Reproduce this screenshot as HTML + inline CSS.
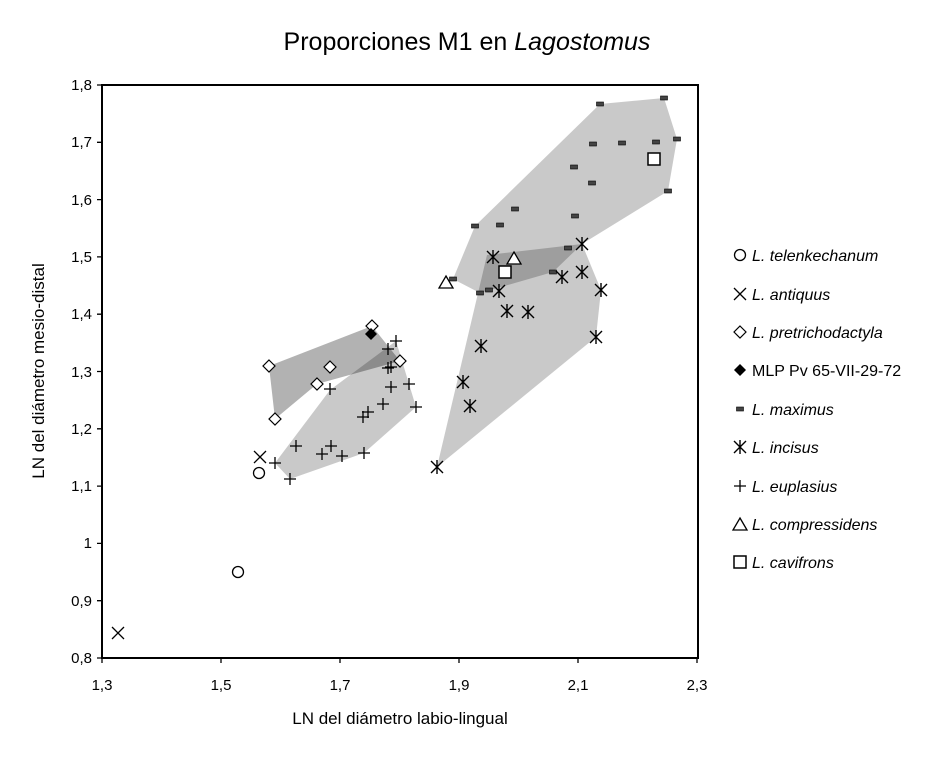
<!DOCTYPE html>
<html><head><meta charset="utf-8"><style>body{margin:0;background:#fff}svg{display:block}text{font-family:"Liberation Sans",sans-serif;fill:#000}</style></head><body>
<svg width="945" height="758" viewBox="0 0 945 758" xmlns="http://www.w3.org/2000/svg">
<defs>
<g id="ci"><circle r="5.5" fill="#fff" stroke="#000" stroke-width="1.3"/></g>
<g id="xx"><path d="M-6,-6L6,6M-6,6L6,-6" stroke="#000" stroke-width="1.3"/></g>
<g id="di"><path d="M0,-6L6,0L0,6L-6,0Z" fill="#fff" stroke="#000" stroke-width="1.2"/></g>
<g id="fd"><path d="M0,-6L6,0L0,6L-6,0Z" fill="#000"/></g>
<g id="mx"><rect x="-3.5" y="-2" width="7" height="4" fill="#444" stroke="#000" stroke-width="0.6"/></g>
<g id="as"><path d="M-6,-6L6,6M-6,6L6,-6M0,-7V7" stroke="#000" stroke-width="1.4"/></g>
<g id="pl"><path d="M-6,0H6M0,-6V6" stroke="#000" stroke-width="1.3"/></g>
<g id="tr"><path d="M0,-7L7,5H-7Z" fill="#fff" stroke="#000" stroke-width="1.3"/></g>
<g id="sq"><rect x="-6" y="-6" width="12" height="12" fill="#fff" stroke="#000" stroke-width="1.5"/></g>
</defs>
<text x="467" y="50" font-size="25" text-anchor="middle">Proporciones M1 en <tspan font-style="italic">Lagostomus</tspan></text>
<!-- polygons -->
<g fill="#000" fill-opacity="0.21">
<polygon points="600,104 664,98 677,139 668,191 582,244 553,272 480,293 453,279 475,226"/>
<polygon points="582,244 601,290 596,337 437,467 487,255"/>
<polygon points="396,341 416,407 364,453 290,479 275,463 330,390"/>
</g>
<polygon points="269,366 372,326 400,361 317,384 275,419" fill="#000" fill-opacity="0.3"/>
<!-- axes box -->
<rect x="102" y="85" width="596" height="573" fill="none" stroke="#000" stroke-width="2"/>
<g stroke="#000" stroke-width="1.3">
<path d="M102,85h-5M102,142.3h-5M102,199.6h-5M102,256.9h-5M102,314.2h-5M102,371.5h-5M102,428.8h-5M102,486.1h-5M102,543.4h-5M102,600.7h-5M102,658h-5"/>
<path d="M102,658v5M221,658v5M340,658v5M459,658v5M578,658v5M697,658v5"/>
</g>
<g font-size="15" text-anchor="end">
<text x="92" y="90">1,8</text><text x="92" y="147">1,7</text><text x="92" y="205">1,6</text><text x="92" y="262">1,5</text><text x="92" y="319">1,4</text><text x="92" y="377">1,3</text><text x="92" y="434">1,2</text><text x="92" y="491">1,1</text><text x="92" y="548">1</text><text x="92" y="606">0,9</text><text x="92" y="663">0,8</text>
</g>
<g font-size="15" text-anchor="middle">
<text x="102" y="690">1,3</text><text x="221" y="690">1,5</text><text x="340" y="690">1,7</text><text x="459" y="690">1,9</text><text x="578" y="690">2,1</text><text x="697" y="690">2,3</text>
</g>
<text x="400" y="724" font-size="17" text-anchor="middle">LN del diámetro labio-lingual</text>
<text transform="translate(44,371) rotate(-90)" font-size="17" text-anchor="middle">LN del diámetro mesio-distal</text>
<!-- points -->
<use href="#ci" x="259" y="473"/><use href="#ci" x="238" y="572"/>
<use href="#xx" x="260" y="457"/><use href="#xx" x="118" y="633"/>
<use href="#pl" x="396" y="341"/><use href="#pl" x="388" y="349"/><use href="#pl" x="388" y="368"/><use href="#pl" x="391" y="367"/><use href="#pl" x="330" y="389"/><use href="#pl" x="409" y="384"/><use href="#pl" x="391" y="387"/><use href="#pl" x="416" y="407"/><use href="#pl" x="383" y="404"/><use href="#pl" x="368" y="412"/><use href="#pl" x="363" y="417"/><use href="#pl" x="296" y="446"/><use href="#pl" x="331" y="446"/><use href="#pl" x="322" y="454"/><use href="#pl" x="342" y="456"/><use href="#pl" x="364" y="453"/><use href="#pl" x="275" y="463"/><use href="#pl" x="290" y="479"/>
<use href="#di" x="372" y="326"/><use href="#di" x="269" y="366"/><use href="#di" x="330" y="367"/><use href="#di" x="400" y="361"/><use href="#di" x="317" y="384"/><use href="#di" x="275" y="419"/>
<use href="#fd" x="371" y="334"/>
<use href="#mx" x="600" y="104"/><use href="#mx" x="664" y="98"/><use href="#mx" x="677" y="139"/><use href="#mx" x="593" y="144"/><use href="#mx" x="622" y="143"/><use href="#mx" x="656" y="142"/><use href="#mx" x="574" y="167"/><use href="#mx" x="592" y="183"/><use href="#mx" x="668" y="191"/><use href="#mx" x="515" y="209"/><use href="#mx" x="500" y="225"/><use href="#mx" x="475" y="226"/><use href="#mx" x="575" y="216"/><use href="#mx" x="568" y="248"/><use href="#mx" x="553" y="272"/><use href="#mx" x="489" y="290"/><use href="#mx" x="480" y="293"/><use href="#mx" x="453" y="279"/>
<use href="#as" x="582" y="244"/><use href="#as" x="493" y="257"/><use href="#as" x="499" y="291"/><use href="#as" x="562" y="277"/><use href="#as" x="582" y="272"/><use href="#as" x="601" y="290"/><use href="#as" x="507" y="311"/><use href="#as" x="528" y="312"/><use href="#as" x="596" y="337"/><use href="#as" x="481" y="346"/><use href="#as" x="463" y="382"/><use href="#as" x="470" y="406"/><use href="#as" x="437" y="467"/>
<use href="#tr" x="446" y="283"/><use href="#tr" x="514" y="259"/>
<use href="#sq" x="654" y="159"/><use href="#sq" x="505" y="272"/>
<!-- legend -->
<use href="#ci" x="740" y="255"/><use href="#xx" x="740" y="294"/><use href="#di" x="740" y="332"/><use href="#fd" x="740" y="370"/><use href="#mx" x="740" y="409"/><use href="#as" x="740" y="447"/><use href="#pl" x="740" y="486"/><use href="#tr" x="740" y="525"/><use href="#sq" x="740" y="562"/>
<g font-size="16">
<text x="752" y="261" font-style="italic">L. telenkechanum</text>
<text x="752" y="300" font-style="italic">L. antiquus</text>
<text x="752" y="338" font-style="italic">L. pretrichodactyla</text>
<text x="752" y="376">MLP Pv 65-VII-29-72</text>
<text x="752" y="415" font-style="italic">L. maximus</text>
<text x="752" y="453" font-style="italic">L. incisus</text>
<text x="752" y="492" font-style="italic">L. euplasius</text>
<text x="752" y="530" font-style="italic">L. compressidens</text>
<text x="752" y="568" font-style="italic">L. cavifrons</text>
</g>
</svg>
</body></html>
